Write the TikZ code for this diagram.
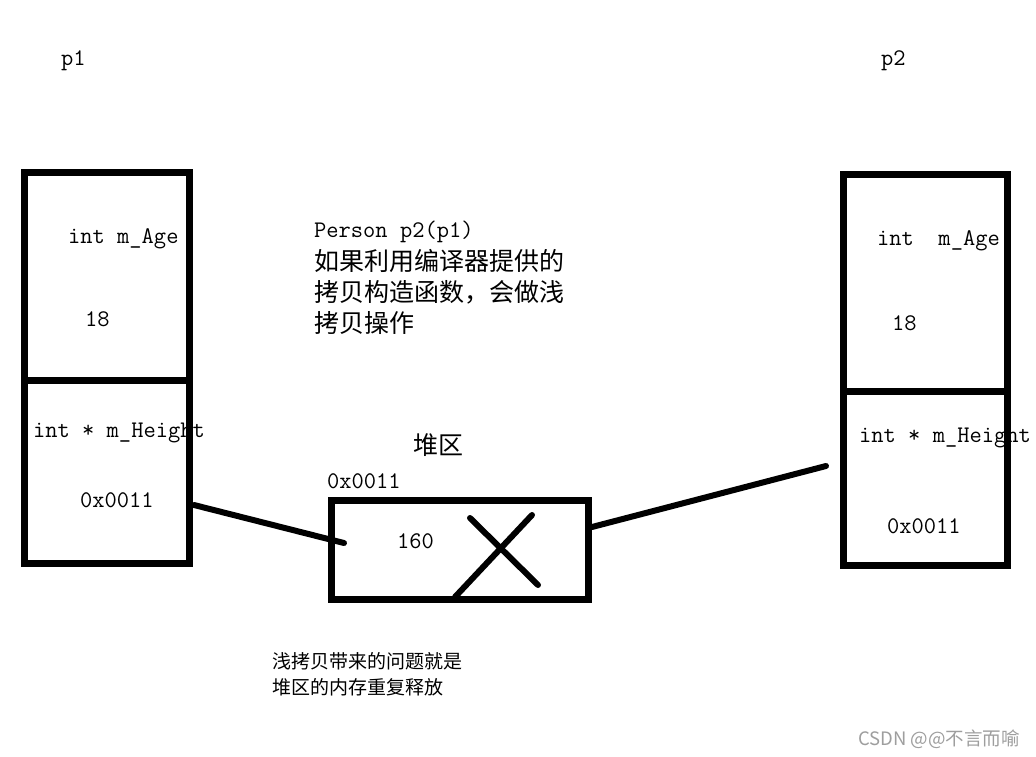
\documentclass[tikz,border=0pt]{standalone}
\usepackage{fontspec}
\newfontfamily\cjk{Noto Sans CJK SC}
\newfontfamily\monof{Latin Modern Mono}
\begin{document}
\begin{tikzpicture}[x=1pt,y=-1pt,
  membox/.style={draw=black,line width=7pt,minimum width=164.5pt,inner sep=0pt,outer sep=0pt},
  divline/.style={line width=7pt},
  conn/.style={line width=6pt,line cap=round},
  xline/.style={line width=6pt,line cap=round},
  mono/.style={inner sep=0pt,anchor=base west,font=\monof\fontsize{23.8}{28}\selectfont},
  cjkbig/.style={inner sep=0pt,anchor=west,font=\cjk\fontsize{25}{30}\selectfont},
  cjksmall/.style={inner sep=0pt,anchor=west,font=\cjk\fontsize{19}{23}\selectfont},
  wmark/.style={inner sep=0pt,anchor=east,text=black!38,font=\cjk\fontsize{18.5}{22}\selectfont}]
\useasboundingbox[fill=white] (0,0) rectangle (1036,757);

% labels p1 p2
\node[mono] (lp1) at (61,66) {p1};
\node[mono] (lp2) at (881,66) {p2};

% left object p1 (texts first, box drawn over them)
\node[mono] (p1age) at (68,243) {int m\_Age};
\node[mono] (p1agev) at (85,326) {18};
\node[mono] (p1h) at (33,437) {int * m\_Height};
\node[mono] (p1hv) at (80,507) {0x0011};
\node[membox,minimum height=391pt] (p1box) at (106.75,368) {};
\coordinate (d1l) at (28,380.5);
\coordinate (d1r) at (186,380.5);
\draw[divline] (d1l) -- (d1r);

% right object p2
\node[mono] (p2age) at (877,245) {int\ \ m\_Age};
\node[mono] (p2agev) at (892,330) {18};
\node[mono] (p2h) at (859,442) {int * m\_Height};
\node[mono] (p2hv) at (887,533) {0x0011};
\node[membox,minimum height=391.5pt] (p2box) at (925.25,369.75) {};
\coordinate (d2l) at (846,391.5);
\coordinate (d2r) at (1004,391.5);
\draw[divline] (d2l) -- (d2r);

% heap
\node[cjkbig] (heaplbl) at (413,445) {堆区};
\node[mono] (heapaddr) at (327,488) {0x0011};
\node[membox,minimum width=256.5pt,minimum height=99pt] (heap) at (459.75,550) {};
\node[mono] (heapval) at (397,548) {160};

% cross
\coordinate (xa1) at (470,518);
\coordinate (xa2) at (538,585);
\coordinate (xb1) at (532,515);
\coordinate (xb2) at (455,597);
\draw[xline] (xa1) -- (xa2);
\draw[xline] (xb1) -- (xb2);

% connectors
\coordinate (c1a) at (194,505);
\coordinate (c1b) at (344,543);
\draw[conn] (c1a) -- (c1b);
\coordinate (c2a) at (592,527);
\coordinate (c2b) at (826,466);
\draw[conn] (c2a) -- (c2b);

% explanation
\node[mono] (t0) at (314,237) {Person p2(p1)};
\node[cjkbig] (t1) at (314,261) {如果利用编译器提供的};
\node[cjkbig] (t2) at (314,292) {拷贝构造函数，会做浅};
\node[cjkbig] (t3) at (314,323) {拷贝操作};

\node[cjksmall] (b1) at (272,661) {浅拷贝带来的问题就是};
\node[cjksmall] (b2) at (272,687) {堆区的内存重复释放};

\node[wmark] (wm) at (1020,739) {CSDN @@不言而喻};
\end{tikzpicture}
\end{document}
